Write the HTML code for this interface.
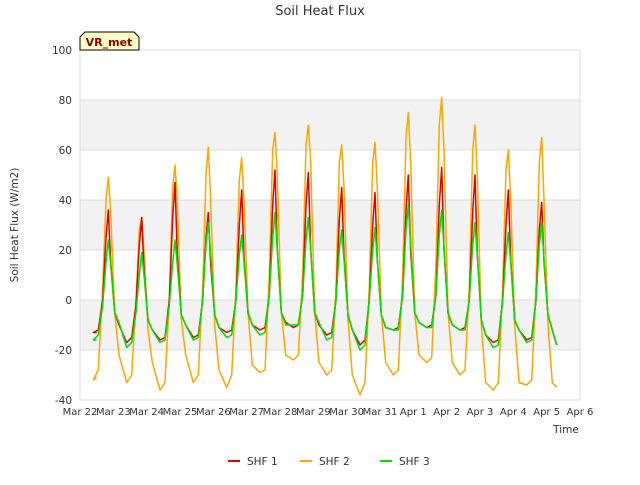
<!DOCTYPE html>
<html><head><meta charset="utf-8"><style>
body{margin:0;background:#fff;font-family:"Liberation Sans",sans-serif}
svg text{font-family:"DejaVu Sans","Liberation Sans",sans-serif}
</style></head><body>
<svg id="c" width="640" height="480">
<text x="320" y="15" text-anchor="middle" font-size="13" fill="#333">Soil Heat Flux</text>
<g id="grid"></g>
<g id="series"></g>
<g id="axes"></g>
<g>
<path d="M80,50 L80,37 L85,32 L134,32 L139,37 L139,50 Z" fill="#ffffc8" stroke="#000"/>
<text x="109" y="46" text-anchor="middle" font-size="11" font-weight="bold" fill="#8b0000">VR_met</text>
</g>
<text transform="translate(18,225) rotate(-90)" text-anchor="middle" font-size="10.5" fill="#333">Soil Heat Flux (W/m2)</text>
<text x="566" y="433" text-anchor="middle" font-size="10.5" fill="#333">Time</text>
<g id="legend"></g>
</svg>
<script>
const yTicks=[-40,-20,0,20,40,60,80,100];
const xLabels=["Mar 22","Mar 23","Mar 24","Mar 25","Mar 26","Mar 27","Mar 28","Mar 29","Mar 30","Mar 31","Apr 1","Apr 2","Apr 3","Apr 4","Apr 5","Apr 6"];
const offsets=[-0.45,-0.3,-0.17,-0.07,0,0.07,0.19,0.32];
const shf2=[
[-32,-28,5,40,49,35,-5,-22],[-33,-30,0,28,33,20,-12,-25],[-36,-33,0,45,54,40,-8,-22],[-33,-30,5,50,61,40,-10,-28],
[-35,-30,5,48,57,40,-5,-26],[-29,-28,10,60,67,50,-5,-22],[-24,-22,10,62,70,55,-5,-25],[-30,-28,5,55,62,45,-8,-30],
[-38,-33,5,55,63,45,-5,-25],[-30,-28,10,65,75,55,-5,-22],[-25,-23,15,70,81,60,-5,-25],[-30,-28,5,60,70,50,-10,-33],
[-36,-33,5,52,60,40,-10,-33],[-34,-32,5,55,65,40,-10,-33]];
const shf1=[
[-13,-12,0,25,36,15,-5,-10],[-17,-15,-2,22,33,12,-8,-12],[-16,-15,0,33,47,18,-6,-10],[-15,-14,0,25,35,14,-6,-11],
[-13,-12,0,30,44,17,-5,-10],[-12,-11,2,38,52,20,-5,-9],[-11,-10,2,38,51,20,-5,-10],[-14,-13,0,32,45,18,-6,-12],
[-18,-16,0,30,43,16,-6,-11],[-12,-11,2,36,50,19,-5,-9],[-11,-10,2,38,53,20,-5,-10],[-12,-11,0,35,50,18,-8,-14],
[-17,-16,0,30,44,16,-8,-12],[-16,-15,0,28,39,15,-6,-12]];
const shf3=[
[-16,-14,-2,15,24,14,-5,-9],[-19,-17,-5,10,19,10,-8,-12],[-17,-16,-2,15,24,14,-6,-10],[-16,-15,0,22,31,18,-6,-11],
[-15,-14,0,18,26,15,-5,-10],[-14,-13,2,25,35,20,-5,-10],[-10,-10,2,24,33,20,-5,-9],[-16,-15,0,20,28,16,-6,-12],
[-20,-18,0,20,29,16,-6,-11],[-12,-12,2,28,38,22,-5,-9],[-11,-11,2,26,36,21,-5,-10],[-12,-12,0,22,31,18,-8,-14],
[-19,-18,0,18,27,15,-8,-12],[-17,-16,0,22,31,16,-6,-12]];
const startVals={shf1:-13,shf2:-31,shf3:-16};
const endVals={shf1:-18,shf2:-35,shf3:-18};
const X0=80,X1=580,Y0=400,Y1=50;
const xs=d=>X0+(X1-X0)*d/15;
const ys=v=>Y0-(Y0-Y1)*(v+40)/140;
const NS="http://www.w3.org/2000/svg";
function mk(t,a,p){const e=document.createElementNS(NS,t);for(const k in a)e.setAttribute(k,a[k]);p.appendChild(e);return e;}
const grid=document.getElementById('grid');
for(let i=0;i<yTicks.length-1;i++){
 const r=mk('rect',{x:X0,y:ys(yTicks[i+1]),width:X1-X0,height:ys(yTicks[i])-ys(yTicks[i+1]),fill:(i%2===1)?'#f2f2f2':'#fff'},grid);
 
 
}
for(const t of yTicks){const l=mk('line',{x1:X0,x2:X1,y1:ys(t),y2:ys(t),stroke:'#ddd'},grid);
 
 }
mk('line',{x1:X0,x2:X0,y1:Y1,y2:Y0,stroke:'#ddd'},grid);
mk('line',{x1:X1,x2:X1,y1:Y1,y2:Y0,stroke:'#ddd'},grid);
const axes=document.getElementById('axes');
for(const t of yTicks){const tx=mk('text',{x:X0-8,y:ys(t)+4,'text-anchor':'end','font-size':10.5,fill:'#333'},axes);tx.textContent=t;
 
 }
xLabels.forEach((s,i)=>{const tx=mk('text',{x:xs(i),y:415,'text-anchor':'middle','font-size':10,fill:'#333'},axes);tx.textContent=s;
 
 });
function pts(arr,k){let p=[[0.5,startVals[k]]];arr.forEach((day,i)=>{const P=i+0.85;offsets.forEach((o,j)=>p.push([P+o,day[j]]));});p.push([14.3,endVals[k]]);return p;}
const ser=[['shf2',shf2,'#ffa500'],['shf1',shf1,'#e00000'],['shf3',shf3,'#00e000']];
const sg=document.getElementById('series');
for(const [k,arr,col] of ser){
 const d=pts(arr,k).map((p,i)=>(i?'L':'M')+xs(p[0]).toFixed(1)+','+ys(p[1]).toFixed(1)).join('');
 const pa=mk('path',{d:d,fill:'none',stroke:col,'stroke-width':1.5,'stroke-linejoin':'round'},sg);
 
 
}
const lg=document.getElementById('legend');
[['SHF 1','#e00000',228],['SHF 2','#ffa500',300],['SHF 3','#00e000',380]].forEach(([n,c,x])=>{
 const g=mk('g',{},lg);
 
 
 mk('line',{x1:x,x2:x+12,y1:461,y2:461,stroke:c,'stroke-width':2},g);
 const t=mk('text',{x:x+19,y:465,'font-size':10.5,fill:'#333'},g);t.textContent=n;
});
</script>
</body></html>
